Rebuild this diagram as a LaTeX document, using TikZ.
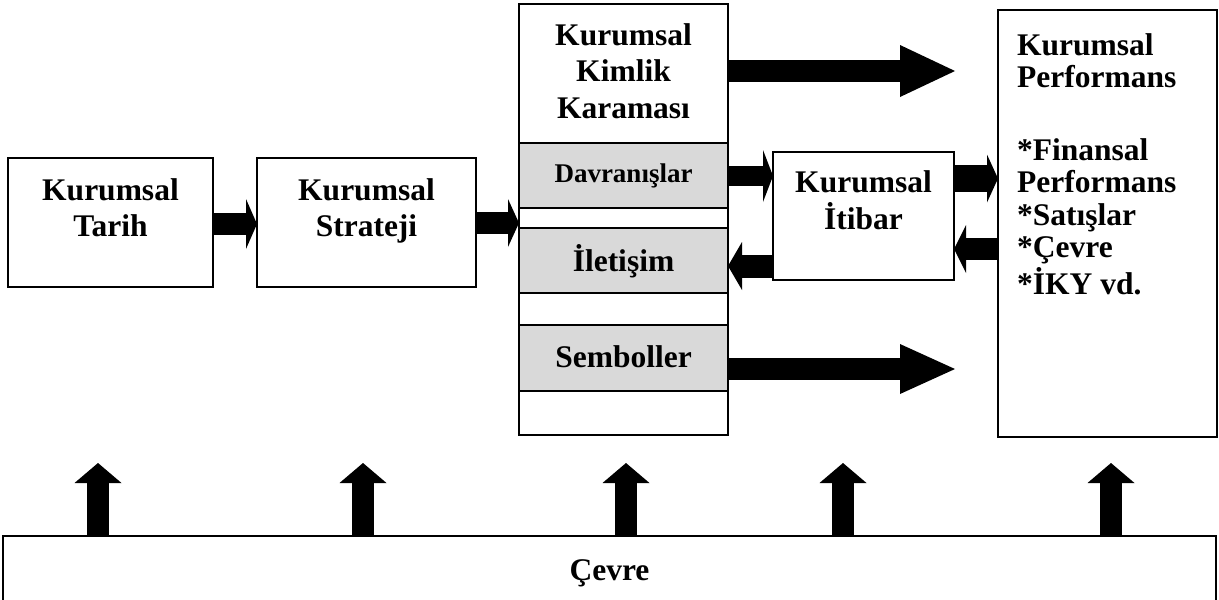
\documentclass[tikz,border=0pt]{standalone}
\usepackage{fontspec}
\setmainfont{Liberation Serif}
\usetikzlibrary{arrows.meta,calc}
\definecolor{cellgray}{RGB}{217,217,217}
% stacked lines whose reference point is the baseline of the first line
\newcommand\clines[1]{\begin{tabular}[t]{@{}c@{}}#1\end{tabular}}
\newcommand\llines[1]{\begin{tabular}[t]{@{}l@{}}#1\end{tabular}}

\begin{document}
\begin{tikzpicture}[x=1pt,y=1pt,
  box/.style={draw=black, line width=1.6pt, inner sep=0pt, outer sep=0pt},
  cell/.style={box, fill=cellgray},
  txt/.style={inner sep=0pt, anchor=base, font=\fontsize{31.5}{36.5}\selectfont\bfseries},
  small/.style={txt, font=\fontsize{27}{32}\selectfont\bfseries},
  fat/.style n args={4}{line width=#1, draw=black,
    -{Triangle[length=#3, width=#2, line width=0pt]}, shorten >=#4},
]
\useasboundingbox (0,0) rectangle (1219,-600);

% ---- left chain ----
\node[box, minimum width=205, minimum height=129] (tarih) at (110.5,-222.5) {};
\node[txt] (tarihT) at (110.5,-200) {\clines{Kurumsal\\Tarih}};
\node[box, minimum width=219, minimum height=129] (strateji) at (366.5,-222.5) {};
\node[txt] (stratejiT) at (366.5,-200) {\clines{Kurumsal\\Strateji}};

% ---- identity column ----
\node[box,  minimum width=209, minimum height=139] (title) at (623.5,-73.5) {};
\node[cell, minimum width=209, minimum height=65]  (davr)  at (623.5,-175.5) {};
\node[box,  minimum width=209, minimum height=20]  (gap1)  at (623.5,-218) {};
\node[cell, minimum width=209, minimum height=65]  (ilet)  at (623.5,-260.5) {};
\node[box,  minimum width=209, minimum height=32]  (gap2)  at (623.5,-309) {};
\node[cell, minimum width=209, minimum height=66]  (semb)  at (623.5,-358) {};
\node[box,  minimum width=209, minimum height=44]  (gap3)  at (623.5,-413) {};
\node[txt] (titleT) at (623.5,-45) {\clines{Kurumsal\\Kimlik\\Karaması}};
\node[small] (davrT) at (623.5,-182) {Davranışlar};
\node[txt] (iletT) at (623.5,-271) {İletişim};
\node[txt] (sembT) at (623.5,-367) {Semboller};

% ---- reputation ----
\node[box, minimum width=181, minimum height=128] (itibar) at (863.5,-216) {};
\node[txt] (itibarT) at (863.5,-192) {\clines{Kurumsal\\İtibar}};

% ---- performance ----
\node[box, minimum width=219, minimum height=427] (perf) at (1107.5,-223.5) {};
\node[txt, font=\fontsize{31.5}{32.5}\selectfont\bfseries, anchor=base west] (perfT) at (1017,-55)
  {\llines{Kurumsal\\Performans\\[40pt]{*}Finansal\\Performans\\{*}Satışlar\\{*}Çevre\\{*}İKY vd.}};

% ---- environment ----
\node[box, minimum width=1213, minimum height=80] (cevre) at (609.5,-576) {};
\node[txt] (cevreT) at (609.5,-580) {Çevre};

% ---- free arrow ends ----
\coordinate (k1) at (955,-71);
\coordinate (k2) at (955,-369);
\coordinate (u1) at (98,-463);
\coordinate (u2) at (363,-463);
\coordinate (u3) at (626,-463);
\coordinate (u4) at (843,-463);
\coordinate (u5) at (1111,-463);
% heights of the horizontal arrows
\coordinate (h1) at (0,-224);
\coordinate (h2) at (0,-223);
\coordinate (h3) at (0,-176);
\coordinate (h4) at (0,-266);
\coordinate (h5) at (0,-178.5);
\coordinate (h6) at (0,-249);

% ---- connectors ----
\draw[fat={22pt}{50pt}{11pt}{0pt}] (tarih.east |- h1) -- (strateji.west |- h1);
\draw[fat={22pt}{48pt}{11pt}{0pt}] (strateji.east |- h2) -- (gap1.west |- h2);
\draw[fat={20pt}{52pt}{10pt}{0pt}] (davr.east |- h3) -- (itibar.west |- h3);
\draw[fat={23pt}{48pt}{14pt}{0pt}] (itibar.west |- h4) -- (ilet.east |- h4);
\draw[fat={27pt}{48pt}{11pt}{0pt}] (itibar.east |- h5) -- (perf.west |- h5);
\draw[fat={22pt}{48pt}{12pt}{0pt}] (perf.west |- h6) -- (itibar.east |- h6);
\draw[fat={22pt}{52pt}{55pt}{0pt}] (title.east |- k1) -- (k1);
\draw[fat={22pt}{50pt}{55pt}{0pt}] (semb.east |- k2) -- (k2);
\foreach \u in {u1,u2,u3,u4,u5}
  \draw[fat={22pt}{47pt}{20pt}{0pt}] (cevre.north -| \u) -- (\u);
\end{tikzpicture}
\end{document}
